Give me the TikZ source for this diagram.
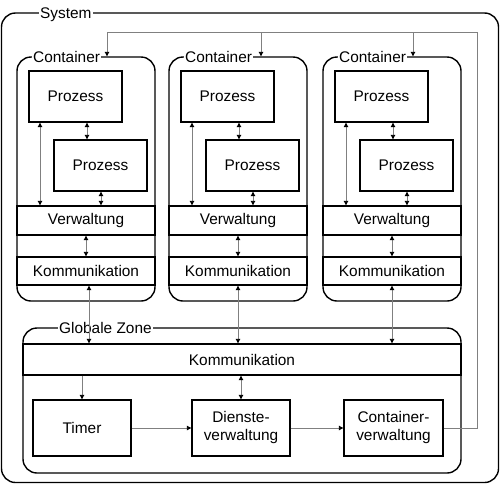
\documentclass[tikz,border=0pt]{standalone}
\usepackage{fontspec}
\setmainfont{Liberation Sans}
\usetikzlibrary{arrows.meta}
\begin{document}
\begin{tikzpicture}[x=1pt,y=-1pt,
  font=\fontsize{15.4}{18}\selectfont,
  frame/.style={draw=black,line width=1.4pt,rounded corners=14pt,inner sep=0pt},
  boxn/.style={draw=black,line width=1.4pt,inner sep=0pt,align=center},
  band/.style={draw=black,line width=1.4pt,inner sep=0pt,minimum width=138pt},
  lbl/.style={fill=white,inner sep=1pt},
  conn/.style={draw={rgb,255:red,128;green,128;blue,128},line width=0.9pt},
  >={Triangle[length=4.5pt,width=4.5pt,color=black]}]
\useasboundingbox (0,0) rectangle (500,485);
% system
\node[frame,minimum width=497pt,minimum height=469.5pt] (sys) at (250,247.75) {};
\node[lbl,anchor=base west] (lsys) at (39,18.5) {System};
% containers
\foreach \i/\L/\K/\T in {1/17/89/21, 2/169/238/23, 3/323/392/21}{
  \node[frame,minimum width=138pt,minimum height=244pt] (c\i) at (\L+69,179) {};
  \node[lbl,anchor=base west] (lc\i) at (\L+15,62.5) {Container};
  \node[boxn,minimum width=93pt,minimum height=51pt] (pa\i) at (\L+58.5,96.5) {Prozess};
  \node[boxn,minimum width=93pt,minimum height=51pt] (pb\i) at (\L+83.5,165.5) {Prozess};
  \node[band,minimum height=29pt] (vw\i) at (\L+69,220.5) {Verwaltung};
  \node[band,minimum height=28pt] (km\i) at (\L+69,271) {Kommunikation};
  \coordinate (ta\i) at ([xshift=-35.5pt]pa\i.south);
  \coordinate (tb\i) at ([xshift=11.5pt]pa\i.south);
  \coordinate (tc\i) at ([xshift=0.5pt]pb\i.south);
  \coordinate (tk\i) at (\K,0);
  \coordinate (ct\i) at ([xshift=\T pt]c\i.north);
}
% global zone
\node[frame,minimum width=438pt,minimum height=145pt] (gz) at (242,400.5) {};
\node[lbl,anchor=base west] (lgz) at (58,333.5) {Globale Zone};
\node[draw=black,line width=1.4pt,inner sep=0pt,minimum width=438pt,minimum height=31pt] (gk) at (242,359.5) {Kommunikation};
\node[boxn,minimum width=98pt,minimum height=56pt] (tm) at (82,428) {Timer};
\node[boxn,minimum width=98pt,minimum height=56pt] (dv) at (241,428) {Dienste-\\verwaltung};
\node[boxn,minimum width=99pt,minimum height=56pt] (cv) at (393.5,428) {Container-\\verwaltung};
% connectors in containers
\foreach \i in {1,2,3}{
  \draw[conn,<->] (ta\i) -- (ta\i |- vw\i.north);
  \draw[conn,<->] (tb\i) -- (tb\i |- pb\i.north);
  \draw[conn,<->] (tc\i) -- (tc\i |- vw\i.north);
  \draw[conn,<->] (vw\i.south) -- (km\i.north);
  \draw[conn,<->] (km\i.south -| tk\i) -- (gk.north -| tk\i);
}
% global zone connectors
\draw[conn,->] (gk.south -| tm.north) -- (tm.north);
\draw[conn,<->] (gk.south -| dv.north) -- (dv.north);
\draw[conn,->] (tm.east) -- (dv.west);
\draw[conn,->] (dv.east) -- (cv.west);
% feedback loop
\coordinate (lp) at (477,32);
\draw[conn,->] (cv.east) -| (lp) -| (ct1);
\draw[conn,->] (ct2 |- lp) -- (ct2);
\draw[conn,->] (ct3 |- lp) -- (ct3);
\end{tikzpicture}
\end{document}
